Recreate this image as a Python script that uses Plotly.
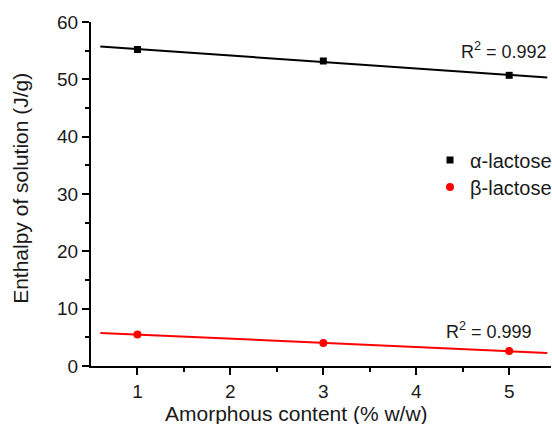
import numpy as np
import plotly.graph_objects as go

amorphous = [1, 3, 5]
alpha_lactose = [55.2, 53.2, 50.7]
beta_lactose = [5.5, 4.0, 2.6]
fit_x_range = [0.6, 5.41]
alpha_r2 = "0.992"
beta_r2 = "0.999"
x_ticks = [1, 2, 3, 4, 5]
y_ticks = [0, 10, 20, 30, 40, 50, 60]

FONT = "Liberation Sans, Arial, sans-serif"
TXT = "#1a1a1a"

fig = go.Figure()


def fit_line(x, y):
    k, b = np.polyfit(x, y, 1)
    xs = np.array(fit_x_range)
    return xs, k * xs + b


series = [
    (alpha_lactose, "black", "square", 7, "α-lactose", "legend"),
    (beta_lactose, "red", "circle", 8, "β-lactose", "legend2"),
]
for ys, color, sym, size, name, leg in series:
    fx, fy = fit_line(amorphous, ys)
    fig.add_trace(go.Scatter(x=fx, y=fy, mode="lines", line=dict(color=color, width=2),
                             showlegend=False, hoverinfo="skip"))
    fig.add_trace(go.Scatter(x=amorphous, y=ys, mode="markers", name=name, legend=leg,
                             marker=dict(color=color, symbol=sym, size=size)))

fig.add_annotation(x=5.43, y=55.1, text="R<sup>2</sup> = " + alpha_r2, showarrow=False,
                   xanchor="right", yanchor="middle", font=dict(size=18, family=FONT, color=TXT))
fig.add_annotation(x=5.27, y=6.2, text="R<sup>2</sup> = " + beta_r2, showarrow=False,
                   xanchor="right", yanchor="middle", font=dict(size=18, family=FONT, color=TXT))

# axis titles
fig.add_annotation(xref="paper", yref="paper", x=0.446, y=-0.1376,
                   text="Amorphous content (% w/w)", showarrow=False,
                   xanchor="center", yanchor="middle", font=dict(size=21, family=FONT, color=TXT))
fig.add_annotation(xref="paper", yref="paper", x=-0.155, y=0.517, textangle=-90,
                   text="Enthalpy of solution (J/g)", showarrow=False,
                   xanchor="center", yanchor="middle", font=dict(size=21, family=FONT, color=TXT))

leg_common = dict(xanchor="left", yanchor="middle", bgcolor="rgba(0,0,0,0)",
                  font=dict(size=20, family=FONT, color=TXT), itemwidth=30, borderwidth=0)
fig.update_layout(
    width=552, height=424,
    margin=dict(l=91, r=1, t=22, b=58, autoexpand=False),
    paper_bgcolor="white", plot_bgcolor="white",
    font=dict(family=FONT, size=19, color=TXT),
    legend=dict(x=0.737, y=0.599, **leg_common),
    legend2=dict(x=0.737, y=0.52, **leg_common),
)
axis_common = dict(showgrid=False, zeroline=False, showline=True, automargin=False,
                   linecolor="black", linewidth=2, ticks="outside", ticklen=7, tickwidth=2,
                   tickcolor="black", tickfont=dict(size=19, family=FONT, color=TXT))
fig.update_xaxes(range=[0.5, 5.45], tickvals=x_ticks,
                 minor=dict(ticks="outside", ticklen=4, tickwidth=2, tickcolor="black",
                            tickvals=[1.5, 2.5, 3.5, 4.5]),
                 **axis_common)
fig.update_yaxes(range=[0, 60], tickvals=y_ticks,
                 minor=dict(ticks="outside", ticklen=4, tickwidth=2, tickcolor="black",
                            tickvals=[5, 15, 25, 35, 45, 55]),
                 **axis_common)

fig.write_html("out.html", config=dict(displayModeBar=False),
               post_script="document.body.style.margin='0';document.body.style.overflow='hidden';")
